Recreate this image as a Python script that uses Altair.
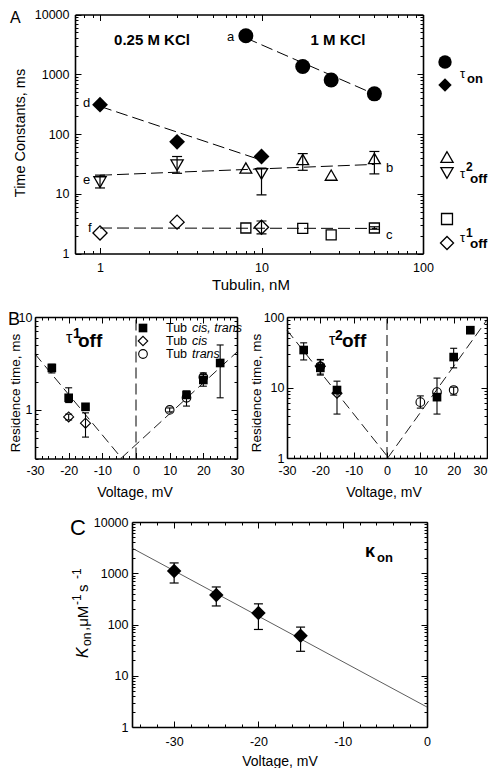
import altair as alt
import pandas as pd

FONT = "Liberation Sans"
W, H = 480, 760

# ---------------- Panel A : time constants vs tubulin (nM) ----------------
A_ton_1M_x = [8, 18, 27, 50]          # tau_on, 1 M KCl (filled circles)
A_ton_1M_y = [4400, 1350, 800, 470]
A_ton_q_x = [1, 3, 10]                # tau_on, 0.25 M KCl (filled diamonds)
A_ton_q_y = [310, 74, 42]
A_t2_1M_x = [8, 18, 27, 50]           # tau2_off, 1 M KCl (open up-triangles)
A_t2_1M_y = [27, 37.5, 20.5, 39]
A_t2_1M_ex = [18, 50]
A_t2_1M_lo = [24.7, 21.5]
A_t2_1M_hi = [47, 51]
A_t2_q_x = [1, 3, 10]                 # tau2_off, 0.25 M KCl (open down-triangles)
A_t2_q_y = [15.7, 30, 21.5]
A_t2_q_lo = [12.5, 22, 9.6]
A_t2_q_hi = [20.5, 42, 27]
A_t1_1M_x = [8, 18, 27, 50]           # tau1_off, 1 M KCl (open squares)
A_t1_1M_y = [2.67, 2.63, 2.05, 2.67]
A_t1_1M_ex = [50]
A_t1_1M_lo = [2.55]
A_t1_1M_hi = [2.8]
A_t1_q_x = [1, 3, 10]                 # tau1_off, 0.25 M KCl (open diamonds)
A_t1_q_y = [2.21, 3.35, 2.75]
A_t1_q_ex = [10]
A_t1_q_lo = [2.13]
A_t1_q_hi = [3.5]
A_fit_a_x = [8, 50]
A_fit_a_y = [4050, 465]
A_fit_d_x = [1, 9.4]
A_fit_d_y = [290, 38.5]
A_fit_b_x = [1, 50]
A_fit_b_y = [20.4, 31]
A_fit_c_x = [1, 52]
A_fit_c_y = [2.67, 2.63]

# ---------------- Panel B : residence times vs voltage ----------------
V_ct = [-25, -20, -15, 15, 20, 25]
B1_ct = [2.83, 1.35, 1.08, 1.45, 2.1, 3.2]
B1_ct_lo = [2.5, 1.2, 1.0, 1.35, 1.8, 1.35]
B1_ct_hi = [3.1, 1.73, 1.15, 1.6, 2.4, 5.0]
V_cis = [-20, -15]
B1_cis = [0.84, 0.72]
B1_cis_lo = [0.78, 0.51]
B1_cis_hi = [0.9, 0.93]
V_trans = [10, 15, 20]
B1_trans = [1.0, 1.35, 2.25]
B1_trans_lo = [0.95, 1.1, 2.0]
B1_trans_hi = [1.05, 1.45, 2.5]
B1_fitL_x = [-30, -4.2]
B1_fitL_y = [4.0, 0.3]
B1_fitR_x = [-4.5, 30]
B1_fitR_y = [0.3, 4.2]

V2_ct = [-25, -20, -15, 15, 20]
B2_ct_all = [34, 19, 9.2, 7.3, 27, 65]
B2_ct_lo = [24.6, 15, 4.2, 4.2, 19]
B2_ct_hi = [43, 24.6, 12.3, 13.6, 36]
B2_cis = [20, 8.3]
V2_trans = [-20, 10, 15, 20]
B2_trans = [20, 6.2, 8.6, 9.2]
V2_trans_e = [-20, 10, 20]
B2_trans_lo = [15.5, 5.1, 7.8]
B2_trans_hi = [25, 7.6, 10.1]
B2_fitL_x = [-30, 0.5]
B2_fitL_y = [65, 1]
B2_fitR_x = [0.2, 30]
B2_fitR_y = [1, 91]

# ---------------- Panel C : k_on vs voltage ----------------
C_v = [-30, -25, -20, -15]
C_k = [1107, 377, 167, 60]
C_lo = [645, 230, 80, 30]
C_hi = [1590, 540, 253, 89]
C_fit_x = [-35, 0]
C_fit_y = [3100, 2.45]


def P(v):
    return v - 8


def sc(dom, rng, log=False):
    if log:
        return alt.Scale(type="log", domain=dom, range=rng, nice=False)
    return alt.Scale(domain=dom, range=rng, nice=False, zero=False)


def enc(ch, xs, ys, xf="x", yf="y"):
    return ch.encode(x=alt.X(f"{xf}:Q", scale=xs, axis=None),
                     y=alt.Y(f"{yf}:Q", scale=ys, axis=None))


def pts(x, y, xs, ys, shape, size, filled, sw=1.3):
    df = pd.DataFrame({"x": x, "y": y})
    m = alt.Chart(df).mark_point(shape=shape, size=size, filled=filled, color="black",
                                 opacity=1, strokeWidth=sw)
    return enc(m, xs, ys)


def fit(x, y, xs, ys, dash=(12, 5), sw=1.0, color="black"):
    df = pd.DataFrame({"x": x, "y": y})
    kw = dict(color=color, strokeWidth=sw)
    if dash:
        kw["strokeDash"] = list(dash)
    return enc(alt.Chart(df).mark_line(**kw), xs, ys)


def err(x, lo, hi, xs, ys, cap, sw=1.2):
    df = pd.DataFrame({"x": x, "lo": lo, "hi": hi})
    rule = alt.Chart(df).mark_rule(color="black", strokeWidth=sw).encode(
        x=alt.X("x:Q", scale=xs, axis=None),
        y=alt.Y("lo:Q", scale=ys, axis=None), y2="hi:Q")
    cdf = pd.DataFrame({"x": list(x) + list(x), "y": list(lo) + list(hi)})
    caps = enc(alt.Chart(cdf).mark_tick(orient="horizontal", size=cap, thickness=sw,
                                         color="black", opacity=1), xs, ys)
    return [rule, caps]


def frame(xs, ys, xdom, ydom, box, xlab, ylab, xmaj, xmin, ymaj, ymin, xpad, ypad,
          last_right=None):
    x0, x1, yt, yb = [P(v) for v in box]
    df = pd.DataFrame({"x": xdom, "y": ydom})
    base = dict(grid=False, title=None, domainColor="black", tickColor="black",
                labelColor="black", labelFont=FONT, labelFontSize=12.5,
                labelFlush=False, labelOverlap=False)

    def A(orient, off, values, **kw):
        return alt.Axis(orient=orient, offset=off, values=values, **base, **kw)

    lab = dict(labelExpr="toString(datum.value)", ticks=False, tickSize=0, domain=False)
    xl = dict(lab)
    if last_right is not None:
        xl["labelAlign"] = {"condition": {"test": f"datum.value == {last_right}",
                                          "value": "right"}, "value": "center"}
    mj = dict(labels=False, tickWidth=1, tickSize=6, domain=True, domainWidth=1.6)
    mn = dict(labels=False, tickWidth=1, tickSize=3, domain=False)
    pairs = [
        (A("bottom", yb - H, xlab, labelPadding=xpad, **xl),
         A("left", -x0, ylab, labelPadding=ypad, **lab)),
        (A("top", -yb, xmaj, **mj), A("right", x0 - W, ymaj, **mj)),
        (A("top", -yb, xmin, **mn), A("right", x0 - W, ymin, **mn)),
        (A("bottom", yt - H, xmaj, **mj), A("left", -x1, ymaj, **mj)),
        (A("bottom", yt - H, xmin, **mn), A("left", -x1, ymin, **mn)),
    ]
    return [alt.Chart(df).mark_point(opacity=0).encode(
        x=alt.X("x:Q", scale=xs, axis=ax), y=alt.Y("y:Q", scale=ys, axis=ay))
        for ax, ay in pairs]


def txt(s, x, y, size, weight="normal", style="normal", align="left", angle=0):
    return alt.Chart(alt.Data(values=[{}])).mark_text(
        text=s, font=FONT, fontSize=size, fontWeight=weight, fontStyle=style,
        align=align, baseline="alphabetic", angle=angle, color="black"
    ).encode(x=alt.value(P(x)), y=alt.value(P(y)))


def sym(shape, x, y, size, filled, sw=1.3):
    return alt.Chart(alt.Data(values=[{}])).mark_point(
        shape=shape, size=size, filled=filled, color="black", opacity=1, strokeWidth=sw
    ).encode(x=alt.value(P(x)), y=alt.value(P(y)))


def logminor(decades, start=1):
    out = []
    for d in decades:
        out += [k * d for k in range(start, 10)]
    return out


# ---------------- Panel A ----------------
xA = sc([0.7, 100], [P(75), P(423)], True)
yA = sc([1, 10000], [P(253.5), P(14.5)], True)
layA = frame(xA, yA, [0.7, 100], [1, 10000], (75, 423, 14.5, 253.5),
             [1, 10, 100], [1, 10, 100, 1000, 10000],
             [1, 10, 100], [0.8, 0.9] + logminor([1, 10], 2),
             [1, 10, 100, 1000, 10000], logminor([1, 10, 100, 1000], 2), 8, 6)
layA += [fit(A_fit_a_x, A_fit_a_y, xA, yA), fit(A_fit_d_x, A_fit_d_y, xA, yA),
         fit(A_fit_b_x, A_fit_b_y, xA, yA), fit(A_fit_c_x, A_fit_c_y, xA, yA)]
layA += err(A_t2_1M_ex, A_t2_1M_lo, A_t2_1M_hi, xA, yA, 10)
layA += err(A_t2_q_x, A_t2_q_lo, A_t2_q_hi, xA, yA, 10)
layA += err(A_t1_1M_ex, A_t1_1M_lo, A_t1_1M_hi, xA, yA, 10)
layA += err(A_t1_q_ex, A_t1_q_lo, A_t1_q_hi, xA, yA, 10)
layA += [pts(A_ton_1M_x, A_ton_1M_y, xA, yA, "circle", 225, True),
         pts(A_ton_q_x, A_ton_q_y, xA, yA, "diamond", 250, True),
         pts(A_t2_1M_x, A_t2_1M_y, xA, yA, "triangle-up", 140, False),
         pts(A_t2_q_x, A_t2_q_y, xA, yA, "triangle-down", 150, False),
         pts(A_t1_1M_x, A_t1_1M_y, xA, yA, "square", 100, False),
         pts(A_t1_q_x, A_t1_q_y, xA, yA, "diamond", 200, False)]
panelA = alt.layer(*layA).resolve_axis(x="independent", y="independent")

# ---------------- Panel B (left, tau1_off) ----------------
xB1 = sc([-30, 30], [P(35), P(237)])
yB1 = sc([0.3, 10], [P(458.5), P(317)], True)
vmaj = [-30, -20, -10, 0, 10, 20, 30]
vmin = [v for v in range(-28, 30, 2) if v % 10 != 0]
layB1 = frame(xB1, yB1, [-30, 30], [0.3, 10], (35, 237, 317, 458.5),
              vmaj, [1, 10], vmaj, vmin, [1, 10],
              [0.3, 0.4, 0.5, 0.6, 0.7, 0.8, 0.9] + logminor([1], 2), 6, 3)
zero1 = alt.Chart(pd.DataFrame({"x": [0], "lo": [0.3], "hi": [10]})).mark_rule(
    color="black", strokeWidth=1, strokeDash=[11, 5]).encode(
    x=alt.X("x:Q", scale=xB1, axis=None), y=alt.Y("lo:Q", scale=yB1, axis=None), y2="hi:Q")
layB1 += [zero1, fit(B1_fitL_x, B1_fitL_y, xB1, yB1, (10, 5), 0.9),
          fit(B1_fitR_x, B1_fitR_y, xB1, yB1, (10, 5), 0.9)]
layB1 += err(V_ct, B1_ct_lo, B1_ct_hi, xB1, yB1, 7, 1.1)
layB1 += err(V_cis, B1_cis_lo, B1_cis_hi, xB1, yB1, 7, 1.1)
layB1 += err(V_trans, B1_trans_lo, B1_trans_hi, xB1, yB1, 7, 1.1)
layB1 += [pts(V_ct, B1_ct, xB1, yB1, "square", 75, True),
          pts(V_cis, B1_cis, xB1, yB1, "diamond", 100, False, 1.1),
          pts(V_trans, B1_trans, xB1, yB1, "circle", 75, False, 1.1)]
panelB1 = alt.layer(*layB1).resolve_axis(x="independent", y="independent")

# ---------------- Panel B (right, tau2_off) ----------------
xB2 = sc([-30, 30], [P(287), P(487)])
yB2 = sc([1, 100], [P(458), P(317)], True)
layB2 = frame(xB2, yB2, [-30, 30], [1, 100], (287, 487, 317, 458),
              vmaj, [1, 10, 100], vmaj, vmin, [1, 10, 100], logminor([1, 10], 2), 6, 3,
              last_right=30)
zero2 = alt.Chart(pd.DataFrame({"x": [0], "lo": [1], "hi": [100]})).mark_rule(
    color="black", strokeWidth=1, strokeDash=[11, 5]).encode(
    x=alt.X("x:Q", scale=xB2, axis=None), y=alt.Y("lo:Q", scale=yB2, axis=None), y2="hi:Q")
layB2 += [zero2, fit(B2_fitL_x, B2_fitL_y, xB2, yB2, (10, 5), 0.9),
          fit(B2_fitR_x, B2_fitR_y, xB2, yB2, (10, 5), 0.9)]
layB2 += err(V2_ct, B2_ct_lo, B2_ct_hi, xB2, yB2, 7, 1.1)
layB2 += err(V2_trans_e, B2_trans_lo, B2_trans_hi, xB2, yB2, 7, 1.1)
layB2 += [pts(V_ct, B2_ct_all, xB2, yB2, "square", 75, True),
          pts(V_cis, B2_cis, xB2, yB2, "diamond", 100, False, 1.1),
          pts(V2_trans, B2_trans, xB2, yB2, "circle", 75, False, 1.1)]
panelB2 = alt.layer(*layB2).resolve_axis(x="independent", y="independent")

# ---------------- Panel C ----------------
xC = sc([-35, 0], [P(132), P(427)])
yC = sc([1, 10000], [P(727), P(522)], True)
layC = frame(xC, yC, [-35, 0], [1, 10000], (132, 427, 522, 727),
             [-30, -20, -10, 0], [1, 10, 100, 1000, 10000],
             [-30, -20, -10, 0], [v for v in range(-34, 0, 2) if v % 10 != 0],
             [1, 10, 100, 1000, 10000], logminor([1, 10, 100, 1000], 2), 8, 4)
layC += [fit(C_fit_x, C_fit_y, xC, yC, None, 0.8, "#333333")]
layC += err(C_v, C_lo, C_hi, xC, yC, 9, 1.2)
layC += [pts(C_v, C_k, xC, yC, "diamond", 210, True)]
panelC = alt.layer(*layC).resolve_axis(x="independent", y="independent")

# ---------------- annotations ----------------
notes = [
    # panel A
    txt("A", 10, 23, 16),
    txt("0.25 M KCl", 152, 45, 15, "bold", align="center"),
    txt("1 M KCl", 338, 45, 15, "bold", align="center"),
    txt("a", 227, 41, 13), txt("b", 386, 172, 13), txt("c", 386, 239, 13),
    txt("d", 83, 107, 13), txt("e", 83, 184, 13), txt("f", 88, 232, 13),
    txt("Tubulin, nM", 251, 290, 15, align="center"),
    txt("Time Constants, ms", 25, 133, 14.5, align="center", angle=270),
    txt("τ", 460, 78, 13), txt("on", 467, 83, 13, "bold"),
    txt("τ", 460, 178, 13), txt("2", 466, 171, 12, "bold"), txt("off", 470, 183, 13.5, "bold"),
    txt("τ", 460, 242, 13), txt("1", 466, 237, 12, "bold"), txt("off", 470, 248, 13.5, "bold"),
    sym("circle", 445, 62, 180, True), sym("diamond", 445, 85, 180, True),
    sym("triangle-up", 447, 157, 150, False), sym("triangle-down", 447, 173, 150, False),
    sym("square", 447, 219, 120, False), sym("diamond", 447, 243, 170, False),
    # panel B
    txt("B", 8, 325, 18),
    txt("τ", 66, 343, 16), txt("1", 73, 338, 14, "bold"), txt("off", 78, 347, 19, "bold"),
    sym("square", 143, 328, 75, True), sym("diamond", 143, 341, 90, False, 1.1),
    sym("circle", 143, 354, 75, False, 1.1),
    txt("Tub", 166, 332, 12.5), txt("cis, trans", 192, 332, 12.5, style="italic"),
    txt("Tub", 166, 345, 12.5), txt("cis", 192, 345, 12.5, style="italic"),
    txt("Tub", 166, 358, 12.5), txt("trans", 192, 358, 12.5, style="italic"),
    txt("Residence time, ms", 20, 393, 13.5, align="center", angle=270),
    txt("Voltage, mV", 135, 497, 14, align="center"),
    txt("τ", 329, 345, 16), txt("2", 335, 340, 14, "bold"), txt("off", 342, 347, 19, "bold"),
    txt("Residence time, ms", 261, 393, 13.5, align="center", angle=270),
    txt("Voltage, mV", 384, 497, 14, align="center"),
    # panel C
    txt("C", 70, 535, 22),
    txt("κ", 365, 557, 18, "bold"), txt("on", 377, 562, 13, "bold"),
    txt("K", 88, 658, 16, style="italic", angle=270),
    txt("on", 91, 646, 12, angle=270),
    txt(",μM", 88, 631, 15, angle=270),
    txt("-1", 81, 605, 12, angle=270),
    txt("s", 88, 592, 15, angle=270),
    txt("-1", 81, 579, 12, angle=270),
    txt("Voltage, mV", 280, 766, 14, align="center"),
]

chart = alt.layer(panelA, panelB1, panelB2, panelC, *notes).resolve_scale(
    x="independent", y="independent").resolve_axis(
    x="independent", y="independent").properties(
    width=W, height=H, padding=0, autosize=alt.AutoSizeParams(type="none")
).configure_view(strokeWidth=0)

chart.save("out.html", embed_options={"renderer": "svg", "actions": False})
